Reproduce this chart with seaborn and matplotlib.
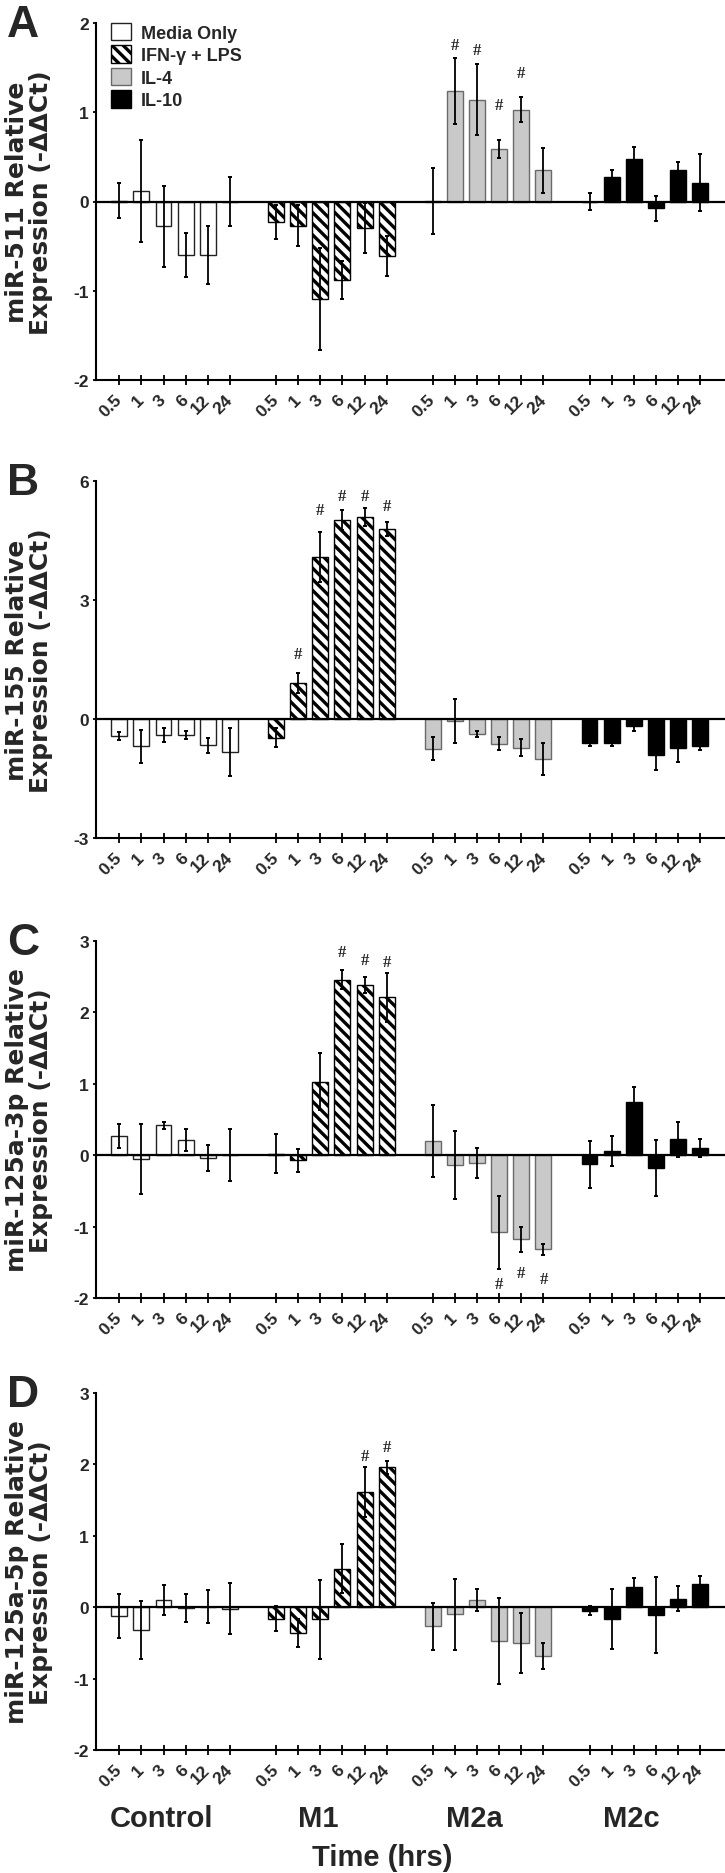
import numpy as np
import pandas as pd
import matplotlib
matplotlib.use("Agg")
import matplotlib.pyplot as plt
import matplotlib.transforms as mtransforms
from matplotlib.patches import Patch
import seaborn as sns

# ---------------- data ----------------
groups = ["Control", "M1", "M2a", "M2c"]
treatments = ["Media Only", "IFN-\u03b3 + LPS", "IL-4", "IL-10"]
times = ["0.5", "1", "3", "6", "12", "24"]
letters = ["A", "B", "C", "D"]
ylabels = ["miR-511 Relative\nExpression (-\u0394\u0394Ct)",
           "miR-155 Relative\nExpression (-\u0394\u0394Ct)",
           "miR-125a-3p Relative\nExpression (-\u0394\u0394Ct)",
           "miR-125a-5p Relative\nExpression (-\u0394\u0394Ct)"]

# order: Control(6), M1(6), M2a(6), M2c(6)
a_mean = [0.01, 0.12, -0.28, -0.60, -0.60, 0.00,
          -0.23, -0.27, -1.09, -0.88, -0.30, -0.61,
          0.01, 1.24, 1.14, 0.59, 1.03, 0.35,
          0.00, 0.27, 0.48, -0.075, 0.35, 0.21]
a_sem = [0.20, 0.57, 0.45, 0.25, 0.32, 0.28,
         0.19, 0.23, 0.57, 0.21, 0.28, 0.22,
         0.37, 0.37, 0.40, 0.10, 0.14, 0.25,
         0.10, 0.08, 0.13, 0.14, 0.09, 0.32]
a_sig_idx = [13, 14, 15, 16]
a_sig_y = [1.75, 1.70, 1.08, 1.44]

b_mean = [-0.43, -0.69, -0.40, -0.40, -0.66, -0.83,
          -0.47, 0.91, 4.09, 5.02, 5.10, 4.79,
          -0.75, -0.05, -0.37, -0.62, -0.72, -1.00,
          -0.61, -0.60, -0.18, -0.90, -0.72, -0.68]
b_sem = [0.10, 0.41, 0.18, 0.11, 0.19, 0.61,
         0.24, 0.26, 0.63, 0.26, 0.23, 0.17,
         0.29, 0.55, 0.08, 0.17, 0.21, 0.40,
         0.08, 0.08, 0.12, 0.39, 0.36, 0.11]
b_sig_idx = [7, 8, 9, 10, 11]
b_sig_y = [1.63, 5.26, 5.62, 5.62, 5.38]

c_mean = [0.27, -0.05, 0.42, 0.21, -0.04, 0.00,
          0.02, -0.07, 1.03, 2.46, 2.38, 2.21,
          0.20, -0.14, -0.11, -1.08, -1.18, -1.32,
          -0.13, 0.065, 0.74, -0.18, 0.22, 0.10]
c_sem = [0.17, 0.49, 0.05, 0.15, 0.18, 0.36,
         0.27, 0.16, 0.40, 0.13, 0.11, 0.34,
         0.51, 0.48, 0.21, 0.51, 0.17, 0.08,
         0.33, 0.21, 0.22, 0.39, 0.25, 0.12]
c_sig_idx = [9, 10, 11, 15, 16, 17]
c_sig_y = [2.84, 2.74, 2.71, -1.81, -1.65, -1.73]

d_mean = [-0.12, -0.32, 0.10, -0.01, 0.005, -0.02,
          -0.16, -0.36, -0.17, 0.54, 1.61, 1.96,
          -0.27, -0.10, 0.10, -0.47, -0.50, -0.68,
          -0.05, -0.16, 0.28, -0.11, 0.12, 0.32]
d_sem = [0.31, 0.40, 0.21, 0.20, 0.23, 0.36,
         0.17, 0.20, 0.55, 0.34, 0.35, 0.09,
         0.33, 0.50, 0.15, 0.60, 0.42, 0.18,
         0.06, 0.42, 0.13, 0.53, 0.17, 0.11]
d_sig_idx = [10, 11]
d_sig_y = [2.12, 2.24]

ylims = [(-2, 2), (-3, 6), (-2, 3), (-2, 3)]
yticks = [[-2, -1, 0, 1, 2], [-3, 0, 3, 6], [-2, -1, 0, 1, 2, 3], [-2, -1, 0, 1, 2, 3]]

means = [a_mean, b_mean, c_mean, d_mean]
sems = [a_sem, b_sem, c_sem, d_sem]
sig_idx = [a_sig_idx, b_sig_idx, c_sig_idx, d_sig_idx]
sig_y = [a_sig_y, b_sig_y, c_sig_y, d_sig_y]

# ---------------- style ----------------
sns.set_style("ticks")
plt.rcParams["font.family"] = ["Liberation Sans", "DejaVu Sans"]
plt.rcParams["font.weight"] = "bold"
plt.rcParams["hatch.linewidth"] = 2.4
plt.rcParams["hatch.color"] = "black"

fill = {"Media Only": "white", "IFN-\u03b3 + LPS": "white", "IL-4": "#c9c9c9", "IL-10": "black"}
edge = {"Media Only": "#222222", "IFN-\u03b3 + LPS": "black", "IL-4": "#6a6a6a", "IL-10": "black"}
hatch = {"Media Only": "", "IFN-\u03b3 + LPS": "\\\\\\", "IL-4": "", "IL-10": ""}

GSTEP = 7.08  # group spacing in slot units
W, H = 725, 1874
fig = plt.figure(figsize=(W / 100, H / 100), dpi=100)
tops = [24, 482, 942, 1394]
AX_H = 357

for k in range(4):
    ax = fig.add_axes([96 / W, 1 - (tops[k] + AX_H) / H, 629 / W, AX_H / H])
    rows = []
    for gi, g in enumerate(groups):
        for ti, t in enumerate(times):
            idx = gi * 6 + ti
            rows.append(dict(group=g, treatment=treatments[gi], time=t,
                             pos=gi * GSTEP + ti, value=means[k][idx], err=sems[k][idx]))
    df = pd.DataFrame(rows)

    sns.barplot(data=df, x="pos", y="value", hue="treatment", hue_order=treatments,
                palette=fill, native_scale=True, dodge=False, width=0.72,
                errorbar=None, legend=False, ax=ax, linewidth=1.0, edgecolor="black")
    for p in ax.patches:
        c = p.get_x() + p.get_width() / 2
        gi = int(np.floor((c + 1.0) / GSTEP))
        tr = treatments[gi]
        p.set_edgecolor(edge[tr])
        p.set_hatch(hatch[tr])
        p.set_linewidth(1.0)
        p.set_zorder(2)

    ax.errorbar(df["pos"], df["value"], yerr=df["err"], fmt="none", ecolor="black",
                elinewidth=1.3, capsize=1.6, capthick=1.4, zorder=5)
    ax.axhline(0, color="black", lw=1.6, zorder=4)

    for i, yv in zip(sig_idx[k], sig_y[k]):
        ax.text(df["pos"].iloc[i], yv, "#", ha="center", va="center", fontsize=12,
                family="Liberation Serif", weight="bold", zorder=6)

    ax.set_xlim(-1.05, 27.36)
    ax.set_ylim(*ylims[k])
    ax.set_yticks(yticks[k])
    ax.set_yticklabels([str(v) for v in yticks[k]])
    ax.set_xticks(df["pos"])
    ax.set_xticklabels(times * 4, rotation=45, ha="right", va="center",
                       rotation_mode="anchor")
    ax.set_xlabel("")
    ax.tick_params(axis="x", direction="inout", length=7.5, width=1.3, pad=8.5,
                   labelsize=12.5, color="black")
    ax.tick_params(axis="y", direction="out", length=2.5, width=1.3, pad=2.5,
                   labelsize=12.5, color="black")
    sns.despine(ax=ax)
    for s in ("left", "bottom"):
        ax.spines[s].set_linewidth(1.5)
        ax.spines[s].set_color("black")

    ax.set_ylabel(ylabels[k], fontsize=18, fontweight="bold", family="DejaVu Sans",
                  linespacing=1.0)
    ax.yaxis.set_label_coords(-0.068, 0.5)

    fig.text(7 / W, 1 - (tops[k] + 13) / H, letters[k], fontsize=32,
             fontweight="bold", ha="left", va="baseline")

    if k == 0:
        handles = [Patch(facecolor=fill[t], edgecolor=edge[t], hatch=hatch[t], linewidth=1.0)
                   for t in treatments]
        ax.legend(handles=handles, labels=treatments, loc="upper left",
                  bbox_to_anchor=(15 / 629, 1.0), frameon=False, borderpad=0,
                  borderaxespad=0, handlelength=1.1, handleheight=1.1,
                  labelspacing=0.2, handletextpad=0.55,
                  prop={"weight": "bold", "size": 13})

    if k == 3:
        tr = mtransforms.blended_transform_factory(ax.transData, fig.transFigure)
        for gi, g in enumerate(groups):
            ax.text(gi * GSTEP + 2.5 - 0.6, 1 - 1827 / H, g, transform=tr,
                    ha="center", va="baseline", fontsize=21, fontweight="bold")
        fig.text(382 / W, 1 - 1866 / H, "Time (hrs)", ha="center", va="baseline",
                 fontsize=21, fontweight="bold")

fig.savefig("out.png", dpi=100)
